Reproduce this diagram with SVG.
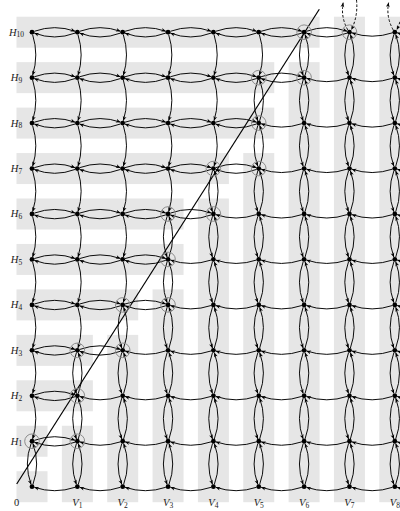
<svg xmlns="http://www.w3.org/2000/svg" width="400" height="511" viewBox="0 0 400 511">
<style>
.band{fill:#e6e6e6}
.dot{fill:#000}
.ring{fill:none;stroke:#8c8c8c;stroke-width:1}
.c path{fill:none;stroke:#000;stroke-width:0.95}
.dash{fill:none;stroke:#000;stroke-width:0.95;stroke-dasharray:2.6 1.8}
.diag{stroke:#000;stroke-width:1.2}
text{font-family:"Liberation Serif","DejaVu Serif",serif;font-size:10.5px;fill:#1a1a1a}
.i{font-style:italic}
.s{font-size:7.5px}
</style>
<defs>
<marker id="a" markerUnits="userSpaceOnUse" viewBox="-5 -2.5 5 5" markerWidth="5" markerHeight="5" refX="0" refY="0" orient="auto">
<path d="M0,0 L-4.6,-1.9 L-3.3,0 L-4.6,1.9 Z" fill="#000"/>
</marker>
<g id="hl" class="c" fill="none" stroke="#000" stroke-width="0.95"><path d="M2.3,-0.9 Q22.7,-8.2 43.2,-0.9" marker-end="url(#a)"/><path d="M43.1,0.9 Q22.7,8.6 2.2,0.9" marker-end="url(#a)"/></g>
<g id="hs" class="c" fill="none" stroke="#000" stroke-width="0.95"><path d="M43.1,0.6 Q22.7,7.4 2.3,0.6" marker-end="url(#a)"/></g>
<g id="vl" class="c" fill="none" stroke="#000" stroke-width="0.95"><path d="M-0.9,-43.2 Q-8.4,-22.7 -0.9,-2.2" marker-end="url(#a)"/><path d="M0.9,-2.2 Q8.4,-22.7 0.9,-43.2" marker-end="url(#a)"/></g>
<g id="vs" class="c" fill="none" stroke="#000" stroke-width="0.95"><path d="M0.6,-43.1 Q7,-22.7 0.6,-2.3" marker-end="url(#a)"/></g>
</defs>
<g id="bands">
<rect class="band" x="16.5" y="471.2" width="31" height="31"/>
<rect class="band" x="16.5" y="425.75" width="31" height="31"/>
<rect class="band" x="16.5" y="380.3" width="76.35" height="31"/>
<rect class="band" x="16.5" y="334.85" width="76.35" height="31"/>
<rect class="band" x="16.5" y="289.4" width="121.7" height="31"/>
<rect class="band" x="16.5" y="243.95" width="167.05" height="31"/>
<rect class="band" x="16.5" y="198.5" width="167.05" height="31"/>
<rect class="band" x="16.5" y="153.05" width="212.4" height="31"/>
<rect class="band" x="16.5" y="107.6" width="257.75" height="31"/>
<rect class="band" x="16.5" y="62.15" width="257.75" height="31"/>
<rect class="band" x="16.5" y="16.7" width="303.1" height="31"/>
<rect class="band" x="61.85" y="425.75" width="31" height="76.45"/>
<rect class="band" x="107.2" y="334.85" width="31" height="167.35"/>
<rect class="band" x="152.55" y="289.4" width="31" height="212.8"/>
<rect class="band" x="197.9" y="198.5" width="31" height="303.7"/>
<rect class="band" x="243.25" y="153.05" width="31" height="349.15"/>
<rect class="band" x="288.6" y="62.15" width="31" height="440.05"/>
<rect class="band" x="333.95" y="16.7" width="31" height="485.5"/>
<rect class="band" x="379.3" y="16.7" width="31" height="485.5"/>
</g>
<g id="connectors">
<use href="#hs" x="32" y="486.7"/><use href="#hs" x="77.35" y="486.7"/><use href="#hs" x="122.7" y="486.7"/><use href="#hs" x="168.05" y="486.7"/><use href="#hs" x="213.4" y="486.7"/><use href="#hs" x="258.75" y="486.7"/><use href="#hs" x="304.1" y="486.7"/><use href="#hs" x="349.45" y="486.7"/><use href="#hs" x="394.8" y="486.7"/>
<use href="#hl" x="32" y="441.25"/><use href="#hs" x="77.35" y="441.25"/><use href="#hs" x="122.7" y="441.25"/><use href="#hs" x="168.05" y="441.25"/><use href="#hs" x="213.4" y="441.25"/><use href="#hs" x="258.75" y="441.25"/><use href="#hs" x="304.1" y="441.25"/><use href="#hs" x="349.45" y="441.25"/><use href="#hs" x="394.8" y="441.25"/>
<use href="#hl" x="32" y="395.8"/><use href="#hs" x="77.35" y="395.8"/><use href="#hs" x="122.7" y="395.8"/><use href="#hs" x="168.05" y="395.8"/><use href="#hs" x="213.4" y="395.8"/><use href="#hs" x="258.75" y="395.8"/><use href="#hs" x="304.1" y="395.8"/><use href="#hs" x="349.45" y="395.8"/><use href="#hs" x="394.8" y="395.8"/>
<use href="#hl" x="32" y="350.35"/><use href="#hl" x="77.35" y="350.35"/><use href="#hs" x="122.7" y="350.35"/><use href="#hs" x="168.05" y="350.35"/><use href="#hs" x="213.4" y="350.35"/><use href="#hs" x="258.75" y="350.35"/><use href="#hs" x="304.1" y="350.35"/><use href="#hs" x="349.45" y="350.35"/><use href="#hs" x="394.8" y="350.35"/>
<use href="#hl" x="32" y="304.9"/><use href="#hl" x="77.35" y="304.9"/><use href="#hl" x="122.7" y="304.9"/><use href="#hs" x="168.05" y="304.9"/><use href="#hs" x="213.4" y="304.9"/><use href="#hs" x="258.75" y="304.9"/><use href="#hs" x="304.1" y="304.9"/><use href="#hs" x="349.45" y="304.9"/><use href="#hs" x="394.8" y="304.9"/>
<use href="#hl" x="32" y="259.45"/><use href="#hl" x="77.35" y="259.45"/><use href="#hl" x="122.7" y="259.45"/><use href="#hs" x="168.05" y="259.45"/><use href="#hs" x="213.4" y="259.45"/><use href="#hs" x="258.75" y="259.45"/><use href="#hs" x="304.1" y="259.45"/><use href="#hs" x="349.45" y="259.45"/><use href="#hs" x="394.8" y="259.45"/>
<use href="#hl" x="32" y="214"/><use href="#hl" x="77.35" y="214"/><use href="#hl" x="122.7" y="214"/><use href="#hl" x="168.05" y="214"/><use href="#hs" x="213.4" y="214"/><use href="#hs" x="258.75" y="214"/><use href="#hs" x="304.1" y="214"/><use href="#hs" x="349.45" y="214"/><use href="#hs" x="394.8" y="214"/>
<use href="#hl" x="32" y="168.55"/><use href="#hl" x="77.35" y="168.55"/><use href="#hl" x="122.7" y="168.55"/><use href="#hl" x="168.05" y="168.55"/><use href="#hl" x="213.4" y="168.55"/><use href="#hs" x="258.75" y="168.55"/><use href="#hs" x="304.1" y="168.55"/><use href="#hs" x="349.45" y="168.55"/><use href="#hs" x="394.8" y="168.55"/>
<use href="#hl" x="32" y="123.1"/><use href="#hl" x="77.35" y="123.1"/><use href="#hl" x="122.7" y="123.1"/><use href="#hl" x="168.05" y="123.1"/><use href="#hl" x="213.4" y="123.1"/><use href="#hs" x="258.75" y="123.1"/><use href="#hs" x="304.1" y="123.1"/><use href="#hs" x="349.45" y="123.1"/><use href="#hs" x="394.8" y="123.1"/>
<use href="#hl" x="32" y="77.65"/><use href="#hl" x="77.35" y="77.65"/><use href="#hl" x="122.7" y="77.65"/><use href="#hl" x="168.05" y="77.65"/><use href="#hl" x="213.4" y="77.65"/><use href="#hl" x="258.75" y="77.65"/><use href="#hs" x="304.1" y="77.65"/><use href="#hs" x="349.45" y="77.65"/><use href="#hs" x="394.8" y="77.65"/>
<use href="#hl" x="32" y="32.2"/><use href="#hl" x="77.35" y="32.2"/><use href="#hl" x="122.7" y="32.2"/><use href="#hl" x="168.05" y="32.2"/><use href="#hl" x="213.4" y="32.2"/><use href="#hl" x="258.75" y="32.2"/><use href="#hl" x="304.1" y="32.2"/><use href="#hs" x="349.45" y="32.2"/><use href="#hs" x="394.8" y="32.2"/>
<use href="#vl" x="32" y="486.7"/><use href="#vs" x="32" y="441.25"/><use href="#vs" x="32" y="395.8"/><use href="#vs" x="32" y="350.35"/><use href="#vs" x="32" y="304.9"/><use href="#vs" x="32" y="259.45"/><use href="#vs" x="32" y="214"/><use href="#vs" x="32" y="168.55"/><use href="#vs" x="32" y="123.1"/><use href="#vs" x="32" y="77.65"/>
<use href="#vl" x="77.35" y="486.7"/><use href="#vl" x="77.35" y="441.25"/><use href="#vl" x="77.35" y="395.8"/><use href="#vs" x="77.35" y="350.35"/><use href="#vs" x="77.35" y="304.9"/><use href="#vs" x="77.35" y="259.45"/><use href="#vs" x="77.35" y="214"/><use href="#vs" x="77.35" y="168.55"/><use href="#vs" x="77.35" y="123.1"/><use href="#vs" x="77.35" y="77.65"/>
<use href="#vl" x="122.7" y="486.7"/><use href="#vl" x="122.7" y="441.25"/><use href="#vl" x="122.7" y="395.8"/><use href="#vl" x="122.7" y="350.35"/><use href="#vs" x="122.7" y="304.9"/><use href="#vs" x="122.7" y="259.45"/><use href="#vs" x="122.7" y="214"/><use href="#vs" x="122.7" y="168.55"/><use href="#vs" x="122.7" y="123.1"/><use href="#vs" x="122.7" y="77.65"/>
<use href="#vl" x="168.05" y="486.7"/><use href="#vl" x="168.05" y="441.25"/><use href="#vl" x="168.05" y="395.8"/><use href="#vl" x="168.05" y="350.35"/><use href="#vl" x="168.05" y="304.9"/><use href="#vl" x="168.05" y="259.45"/><use href="#vs" x="168.05" y="214"/><use href="#vs" x="168.05" y="168.55"/><use href="#vs" x="168.05" y="123.1"/><use href="#vs" x="168.05" y="77.65"/>
<use href="#vl" x="213.4" y="486.7"/><use href="#vl" x="213.4" y="441.25"/><use href="#vl" x="213.4" y="395.8"/><use href="#vl" x="213.4" y="350.35"/><use href="#vl" x="213.4" y="304.9"/><use href="#vl" x="213.4" y="259.45"/><use href="#vl" x="213.4" y="214"/><use href="#vs" x="213.4" y="168.55"/><use href="#vs" x="213.4" y="123.1"/><use href="#vs" x="213.4" y="77.65"/>
<use href="#vl" x="258.75" y="486.7"/><use href="#vl" x="258.75" y="441.25"/><use href="#vl" x="258.75" y="395.8"/><use href="#vl" x="258.75" y="350.35"/><use href="#vl" x="258.75" y="304.9"/><use href="#vl" x="258.75" y="259.45"/><use href="#vl" x="258.75" y="214"/><use href="#vl" x="258.75" y="168.55"/><use href="#vl" x="258.75" y="123.1"/><use href="#vs" x="258.75" y="77.65"/>
<use href="#vl" x="304.1" y="486.7"/><use href="#vl" x="304.1" y="441.25"/><use href="#vl" x="304.1" y="395.8"/><use href="#vl" x="304.1" y="350.35"/><use href="#vl" x="304.1" y="304.9"/><use href="#vl" x="304.1" y="259.45"/><use href="#vl" x="304.1" y="214"/><use href="#vl" x="304.1" y="168.55"/><use href="#vl" x="304.1" y="123.1"/><use href="#vl" x="304.1" y="77.65"/>
<use href="#vl" x="349.45" y="486.7"/><use href="#vl" x="349.45" y="441.25"/><use href="#vl" x="349.45" y="395.8"/><use href="#vl" x="349.45" y="350.35"/><use href="#vl" x="349.45" y="304.9"/><use href="#vl" x="349.45" y="259.45"/><use href="#vl" x="349.45" y="214"/><use href="#vl" x="349.45" y="168.55"/><use href="#vl" x="349.45" y="123.1"/><use href="#vl" x="349.45" y="77.65"/>
<use href="#vl" x="394.8" y="486.7"/><use href="#vl" x="394.8" y="441.25"/><use href="#vl" x="394.8" y="395.8"/><use href="#vl" x="394.8" y="350.35"/><use href="#vl" x="394.8" y="304.9"/><use href="#vl" x="394.8" y="259.45"/><use href="#vl" x="394.8" y="214"/><use href="#vl" x="394.8" y="168.55"/><use href="#vl" x="394.8" y="123.1"/><use href="#vl" x="394.8" y="77.65"/>
<path class="dash" d="M347.8,29.9 Q340.5,17 343.2,2.6" marker-end="url(#a)"/>
<path class="dash" d="M356.5,0 Q358.2,16 351.3,29.9" marker-end="url(#a)"/>
<path class="dash" d="M393.2,29.9 Q385.9,17 388.6,2.6" marker-end="url(#a)"/>
<path class="dash" d="M401.9,0 Q403.6,16 396.7,29.9" marker-end="url(#a)"/>
</g>
<line class="diag" x1="16.7" y1="484" x2="319.3" y2="9.3"/>
<g id="nodes">
<g id="n0_0"><circle class="dot" cx="32" cy="486.7" r="2.4"/></g>
<g id="n0_1"><circle class="dot" cx="32" cy="441.25" r="2.4"/><circle class="ring" cx="32" cy="441.25" r="7.3"/></g>
<g id="n0_2"><circle class="dot" cx="32" cy="395.8" r="2.4"/></g>
<g id="n0_3"><circle class="dot" cx="32" cy="350.35" r="2.4"/></g>
<g id="n0_4"><circle class="dot" cx="32" cy="304.9" r="2.4"/></g>
<g id="n0_5"><circle class="dot" cx="32" cy="259.45" r="2.4"/></g>
<g id="n0_6"><circle class="dot" cx="32" cy="214" r="2.4"/></g>
<g id="n0_7"><circle class="dot" cx="32" cy="168.55" r="2.4"/></g>
<g id="n0_8"><circle class="dot" cx="32" cy="123.1" r="2.4"/></g>
<g id="n0_9"><circle class="dot" cx="32" cy="77.65" r="2.4"/></g>
<g id="n0_10"><circle class="dot" cx="32" cy="32.2" r="2.4"/></g>
<g id="n1_0"><circle class="dot" cx="77.35" cy="486.7" r="2.4"/></g>
<g id="n1_1"><circle class="dot" cx="77.35" cy="441.25" r="2.4"/><circle class="ring" cx="77.35" cy="441.25" r="7.3"/></g>
<g id="n1_2"><circle class="dot" cx="77.35" cy="395.8" r="2.4"/><circle class="ring" cx="77.35" cy="395.8" r="7.3"/></g>
<g id="n1_3"><circle class="dot" cx="77.35" cy="350.35" r="2.4"/><circle class="ring" cx="77.35" cy="350.35" r="7.3"/></g>
<g id="n1_4"><circle class="dot" cx="77.35" cy="304.9" r="2.4"/></g>
<g id="n1_5"><circle class="dot" cx="77.35" cy="259.45" r="2.4"/></g>
<g id="n1_6"><circle class="dot" cx="77.35" cy="214" r="2.4"/></g>
<g id="n1_7"><circle class="dot" cx="77.35" cy="168.55" r="2.4"/></g>
<g id="n1_8"><circle class="dot" cx="77.35" cy="123.1" r="2.4"/></g>
<g id="n1_9"><circle class="dot" cx="77.35" cy="77.65" r="2.4"/></g>
<g id="n1_10"><circle class="dot" cx="77.35" cy="32.2" r="2.4"/></g>
<g id="n2_0"><circle class="dot" cx="122.7" cy="486.7" r="2.4"/></g>
<g id="n2_1"><circle class="dot" cx="122.7" cy="441.25" r="2.4"/></g>
<g id="n2_2"><circle class="dot" cx="122.7" cy="395.8" r="2.4"/></g>
<g id="n2_3"><circle class="dot" cx="122.7" cy="350.35" r="2.4"/><circle class="ring" cx="122.7" cy="350.35" r="7.3"/></g>
<g id="n2_4"><circle class="dot" cx="122.7" cy="304.9" r="2.4"/><circle class="ring" cx="122.7" cy="304.9" r="7.3"/></g>
<g id="n2_5"><circle class="dot" cx="122.7" cy="259.45" r="2.4"/></g>
<g id="n2_6"><circle class="dot" cx="122.7" cy="214" r="2.4"/></g>
<g id="n2_7"><circle class="dot" cx="122.7" cy="168.55" r="2.4"/></g>
<g id="n2_8"><circle class="dot" cx="122.7" cy="123.1" r="2.4"/></g>
<g id="n2_9"><circle class="dot" cx="122.7" cy="77.65" r="2.4"/></g>
<g id="n2_10"><circle class="dot" cx="122.7" cy="32.2" r="2.4"/></g>
<g id="n3_0"><circle class="dot" cx="168.05" cy="486.7" r="2.4"/></g>
<g id="n3_1"><circle class="dot" cx="168.05" cy="441.25" r="2.4"/></g>
<g id="n3_2"><circle class="dot" cx="168.05" cy="395.8" r="2.4"/></g>
<g id="n3_3"><circle class="dot" cx="168.05" cy="350.35" r="2.4"/></g>
<g id="n3_4"><circle class="dot" cx="168.05" cy="304.9" r="2.4"/><circle class="ring" cx="168.05" cy="304.9" r="7.3"/></g>
<g id="n3_5"><circle class="dot" cx="168.05" cy="259.45" r="2.4"/><circle class="ring" cx="168.05" cy="259.45" r="7.3"/></g>
<g id="n3_6"><circle class="dot" cx="168.05" cy="214" r="2.4"/><circle class="ring" cx="168.05" cy="214" r="7.3"/></g>
<g id="n3_7"><circle class="dot" cx="168.05" cy="168.55" r="2.4"/></g>
<g id="n3_8"><circle class="dot" cx="168.05" cy="123.1" r="2.4"/></g>
<g id="n3_9"><circle class="dot" cx="168.05" cy="77.65" r="2.4"/></g>
<g id="n3_10"><circle class="dot" cx="168.05" cy="32.2" r="2.4"/></g>
<g id="n4_0"><circle class="dot" cx="213.4" cy="486.7" r="2.4"/></g>
<g id="n4_1"><circle class="dot" cx="213.4" cy="441.25" r="2.4"/></g>
<g id="n4_2"><circle class="dot" cx="213.4" cy="395.8" r="2.4"/></g>
<g id="n4_3"><circle class="dot" cx="213.4" cy="350.35" r="2.4"/></g>
<g id="n4_4"><circle class="dot" cx="213.4" cy="304.9" r="2.4"/></g>
<g id="n4_5"><circle class="dot" cx="213.4" cy="259.45" r="2.4"/></g>
<g id="n4_6"><circle class="dot" cx="213.4" cy="214" r="2.4"/><circle class="ring" cx="213.4" cy="214" r="7.3"/></g>
<g id="n4_7"><circle class="dot" cx="213.4" cy="168.55" r="2.4"/><circle class="ring" cx="213.4" cy="168.55" r="7.3"/></g>
<g id="n4_8"><circle class="dot" cx="213.4" cy="123.1" r="2.4"/></g>
<g id="n4_9"><circle class="dot" cx="213.4" cy="77.65" r="2.4"/></g>
<g id="n4_10"><circle class="dot" cx="213.4" cy="32.2" r="2.4"/></g>
<g id="n5_0"><circle class="dot" cx="258.75" cy="486.7" r="2.4"/></g>
<g id="n5_1"><circle class="dot" cx="258.75" cy="441.25" r="2.4"/></g>
<g id="n5_2"><circle class="dot" cx="258.75" cy="395.8" r="2.4"/></g>
<g id="n5_3"><circle class="dot" cx="258.75" cy="350.35" r="2.4"/></g>
<g id="n5_4"><circle class="dot" cx="258.75" cy="304.9" r="2.4"/></g>
<g id="n5_5"><circle class="dot" cx="258.75" cy="259.45" r="2.4"/></g>
<g id="n5_6"><circle class="dot" cx="258.75" cy="214" r="2.4"/></g>
<g id="n5_7"><circle class="dot" cx="258.75" cy="168.55" r="2.4"/><circle class="ring" cx="258.75" cy="168.55" r="7.3"/></g>
<g id="n5_8"><circle class="dot" cx="258.75" cy="123.1" r="2.4"/><circle class="ring" cx="258.75" cy="123.1" r="7.3"/></g>
<g id="n5_9"><circle class="dot" cx="258.75" cy="77.65" r="2.4"/><circle class="ring" cx="258.75" cy="77.65" r="7.3"/></g>
<g id="n5_10"><circle class="dot" cx="258.75" cy="32.2" r="2.4"/></g>
<g id="n6_0"><circle class="dot" cx="304.1" cy="486.7" r="2.4"/></g>
<g id="n6_1"><circle class="dot" cx="304.1" cy="441.25" r="2.4"/></g>
<g id="n6_2"><circle class="dot" cx="304.1" cy="395.8" r="2.4"/></g>
<g id="n6_3"><circle class="dot" cx="304.1" cy="350.35" r="2.4"/></g>
<g id="n6_4"><circle class="dot" cx="304.1" cy="304.9" r="2.4"/></g>
<g id="n6_5"><circle class="dot" cx="304.1" cy="259.45" r="2.4"/></g>
<g id="n6_6"><circle class="dot" cx="304.1" cy="214" r="2.4"/></g>
<g id="n6_7"><circle class="dot" cx="304.1" cy="168.55" r="2.4"/></g>
<g id="n6_8"><circle class="dot" cx="304.1" cy="123.1" r="2.4"/></g>
<g id="n6_9"><circle class="dot" cx="304.1" cy="77.65" r="2.4"/><circle class="ring" cx="304.1" cy="77.65" r="7.3"/></g>
<g id="n6_10"><circle class="dot" cx="304.1" cy="32.2" r="2.4"/><circle class="ring" cx="304.1" cy="32.2" r="7.3"/></g>
<g id="n7_0"><circle class="dot" cx="349.45" cy="486.7" r="2.4"/></g>
<g id="n7_1"><circle class="dot" cx="349.45" cy="441.25" r="2.4"/></g>
<g id="n7_2"><circle class="dot" cx="349.45" cy="395.8" r="2.4"/></g>
<g id="n7_3"><circle class="dot" cx="349.45" cy="350.35" r="2.4"/></g>
<g id="n7_4"><circle class="dot" cx="349.45" cy="304.9" r="2.4"/></g>
<g id="n7_5"><circle class="dot" cx="349.45" cy="259.45" r="2.4"/></g>
<g id="n7_6"><circle class="dot" cx="349.45" cy="214" r="2.4"/></g>
<g id="n7_7"><circle class="dot" cx="349.45" cy="168.55" r="2.4"/></g>
<g id="n7_8"><circle class="dot" cx="349.45" cy="123.1" r="2.4"/></g>
<g id="n7_9"><circle class="dot" cx="349.45" cy="77.65" r="2.4"/></g>
<g id="n7_10"><circle class="dot" cx="349.45" cy="32.2" r="2.4"/><circle class="ring" cx="349.45" cy="32.2" r="7.3"/></g>
<g id="n8_0"><circle class="dot" cx="394.8" cy="486.7" r="2.4"/></g>
<g id="n8_1"><circle class="dot" cx="394.8" cy="441.25" r="2.4"/></g>
<g id="n8_2"><circle class="dot" cx="394.8" cy="395.8" r="2.4"/></g>
<g id="n8_3"><circle class="dot" cx="394.8" cy="350.35" r="2.4"/></g>
<g id="n8_4"><circle class="dot" cx="394.8" cy="304.9" r="2.4"/></g>
<g id="n8_5"><circle class="dot" cx="394.8" cy="259.45" r="2.4"/></g>
<g id="n8_6"><circle class="dot" cx="394.8" cy="214" r="2.4"/></g>
<g id="n8_7"><circle class="dot" cx="394.8" cy="168.55" r="2.4"/></g>
<g id="n8_8"><circle class="dot" cx="394.8" cy="123.1" r="2.4"/></g>
<g id="n8_9"><circle class="dot" cx="394.8" cy="77.65" r="2.4"/></g>
<g id="n8_10"><circle class="dot" cx="394.8" cy="32.2" r="2.4"/></g>
</g>
<g id="labels" text-anchor="middle">
<text x="16.5" y="35.6"><tspan class="i">H</tspan><tspan class="s" dy="1.8">10</tspan></text>
<text x="16.5" y="81.05"><tspan class="i">H</tspan><tspan class="s" dy="1.8">9</tspan></text>
<text x="16.5" y="126.5"><tspan class="i">H</tspan><tspan class="s" dy="1.8">8</tspan></text>
<text x="16.5" y="171.95"><tspan class="i">H</tspan><tspan class="s" dy="1.8">7</tspan></text>
<text x="16.5" y="217.4"><tspan class="i">H</tspan><tspan class="s" dy="1.8">6</tspan></text>
<text x="16.5" y="262.85"><tspan class="i">H</tspan><tspan class="s" dy="1.8">5</tspan></text>
<text x="16.5" y="308.3"><tspan class="i">H</tspan><tspan class="s" dy="1.8">4</tspan></text>
<text x="16.5" y="353.75"><tspan class="i">H</tspan><tspan class="s" dy="1.8">3</tspan></text>
<text x="16.5" y="399.2"><tspan class="i">H</tspan><tspan class="s" dy="1.8">2</tspan></text>
<text x="16.5" y="444.65"><tspan class="i">H</tspan><tspan class="s" dy="1.8">1</tspan></text>
<text x="16.5" y="505.8">0</text>
<text x="77.35" y="505.8"><tspan class="i">V</tspan><tspan class="s" dy="1.8">1</tspan></text>
<text x="122.7" y="505.8"><tspan class="i">V</tspan><tspan class="s" dy="1.8">2</tspan></text>
<text x="168.05" y="505.8"><tspan class="i">V</tspan><tspan class="s" dy="1.8">3</tspan></text>
<text x="213.4" y="505.8"><tspan class="i">V</tspan><tspan class="s" dy="1.8">4</tspan></text>
<text x="258.75" y="505.8"><tspan class="i">V</tspan><tspan class="s" dy="1.8">5</tspan></text>
<text x="304.1" y="505.8"><tspan class="i">V</tspan><tspan class="s" dy="1.8">6</tspan></text>
<text x="349.45" y="505.8"><tspan class="i">V</tspan><tspan class="s" dy="1.8">7</tspan></text>
<text x="394.8" y="505.8"><tspan class="i">V</tspan><tspan class="s" dy="1.8">8</tspan></text>
</g>
</svg>
